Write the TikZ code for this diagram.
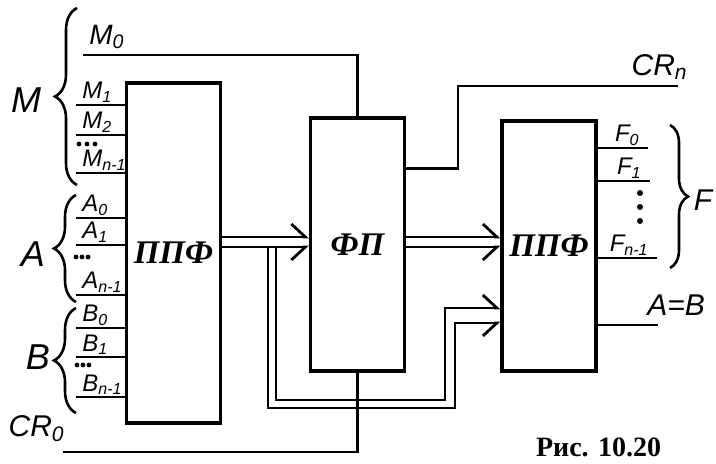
\documentclass[tikz,border=0pt]{standalone}
\usepackage{fontspec}
\setmainfont{Liberation Serif}
\setsansfont{Liberation Sans}
\usetikzlibrary{arrows.meta,positioning,calc,decorations.pathreplacing}

\begin{document}
\begin{tikzpicture}[x=0.5pt,y=-0.5pt,line width=1.4pt,
  unit/.style={draw,line width=1.6pt,minimum width=47pt,inner sep=0pt,font=\fontsize{16.5}{19}\selectfont\bfseries\itshape},
  sig/.style={font=\fontsize{12}{14}\selectfont\sffamily\itshape,inner sep=0.5pt},
  bigsig/.style={sig,font=\fontsize{15}{17}\selectfont\sffamily\itshape},
  grp/.style={font=\fontsize{18}{20}\selectfont\sffamily\itshape},
  grpbrace/.style={decorate,decoration={brace,amplitude=11pt},line width=1.3pt},
  busl/.style={-{Straight Barb[left,length=7pt,width=13pt]}},
  busr/.style={-{Straight Barb[right,length=7pt,width=13pt]}}
]
\useasboundingbox (0,0) rectangle (716,464);

% blocks
\node[unit,minimum height=170pt] (ppfa) at (173.5,253) {ППФ};
\node[unit,minimum height=126.5pt] (fp) at (357.5,244.5) {ФП};
\node[unit,minimum height=125pt] (ppfb) at (549,246) {ППФ};

% operand inputs
\foreach \y/\txt [count=\i] in {105/M\textsubscript{1},135/M\textsubscript{2},173/M\textsubscript{n-1},
    218/A\textsubscript{0},245/A\textsubscript{1},295/A\textsubscript{n-1},
    328/B\textsubscript{0},357/B\textsubscript{1},397/B\textsubscript{n-1}} {
  \coordinate (in\i) at (76,\y);
  \draw (in\i) -- (in\i -| ppfa.west);
  \node[sig,above right=0pt and 2pt of in\i] (lin\i) {\txt};
}
\foreach \x/\y in {79/144,87/144,95/144,76/257,82/257,88/257,77/365,83/365,89/365}
  \fill (\x,\y) circle (1.2pt);

% groups
\draw[grpbrace] (77,185) -- (77,8);
\node[grp] (gm) at (26,100) {M};
\draw[grpbrace] (76,302) -- (76,195);
\node[grp] (ga) at (33,254) {A};
\draw[grpbrace] (76,413) -- (76,308);
\node[grp] (gb) at (38,357) {B};

% control and carry
\coordinate (m0) at (83,55);
\draw (m0) -| (fp.north);
\node[bigsig,font=\fontsize{14}{16}\selectfont\sffamily\itshape,above right=2pt and 2pt of m0] (lm0) {M\textsubscript{0}};
\coordinate (cr0) at (63,452);
\draw (cr0) -| (fp.south);
\node[bigsig,above left=4pt and -2pt of cr0] (lcr0) {CR\textsubscript{0}};
\coordinate (crnk) at (458,86);
\coordinate (crn) at (678,86);
\draw ([yshift=38pt]fp.east) -| (crnk) -- (crn);
\node[bigsig,above left=2pt and -6pt of crn] (lcrn) {CR\textsubscript{n}};

% buses
\coordinate (b1t) at ([yshift=3.75pt]fp.west);
\coordinate (b1b) at ([yshift=-1.25pt]fp.west);
\draw[busl] (b1t -| ppfa.east) -- (b1t);
\draw[busr] (b1b -| ppfa.east) -- (b1b);
\draw[busl] (b1t -| fp.east) -- (b1t -| ppfb.west);
\draw[busr] (b1b -| fp.east) -- (b1b -| ppfb.west);
\coordinate (br) at (276,400);
\coordinate (bl) at (268,408);
\coordinate (ur) at (445,308);
\coordinate (ul) at (455,323);
\draw[busl] (b1b -| br) -- (br) -| (ur) -- (ur -| ppfb.west);
\draw[busr] (b1b -| bl) -- (bl) -| (ul) -- (ul -| ppfb.west);

% results
\foreach \y/\xe/\txt [count=\i] in {148/648/F\textsubscript{0},181/650/F\textsubscript{1},258/657/F\textsubscript{n-1}} {
  \coordinate (out\i) at (\xe,\y);
  \draw (out\i -| ppfb.east) -- (out\i);
  \node[sig,above left=0pt and 3pt of out\i] (lout\i) {\txt};
}
\foreach \y in {193,207,221}
  \fill (640,\y) circle (1.5pt);
\draw[grpbrace,decoration={amplitude=9pt}] (670,125) -- (670,268);
\node[bigsig] (gf) at (703,200) {F};
\coordinate (eq) at (658,325);
\draw (eq -| ppfb.east) -- (eq);
\node[bigsig,above right=3.5pt and -6.5pt of eq] (leq) {A=B};

\node[font=\fontsize{14}{16}\selectfont\bfseries,anchor=base west] (cap) at (528,456) {Рис. 10.20};
\end{tikzpicture}
\end{document}
